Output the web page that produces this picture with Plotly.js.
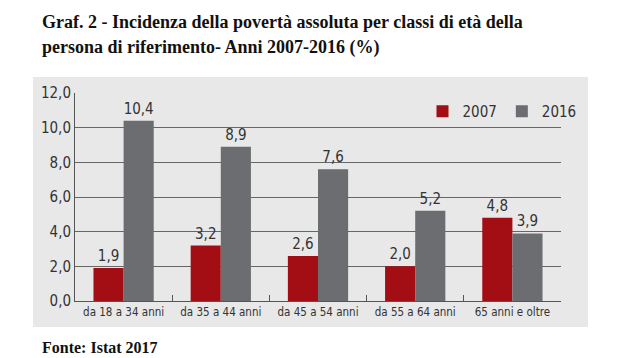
<!DOCTYPE html>
<html><head><meta charset="utf-8">
<script src="https://cdn.plot.ly/plotly-3.0.1.min.js"></script>
<style>body{margin:0;background:#fff}#c{width:621px;height:358px}</style>
</head><body><div id="c"></div>
<script>
const categories = ["da 18 a 34 anni","da 35 a 44 anni","da 45 a 54 anni","da 55 a 64 anni","65 anni e oltre"];
const series2007 = [1.9, 3.2, 2.6, 2.0, 4.8];
const series2016 = [10.4, 8.9, 7.6, 5.2, 3.9];
const yTicks = [0,2,4,6,8,10,12];

const F = "'DejaVu Sans Condensed','Liberation Sans Narrow',sans-serif";
const traces = [
  {type:'bar', name:'2007', x:categories, y:series2007, marker:{color:'#A30E14'},
   text:series2007, texttemplate:'%{y:.1f}', textposition:'outside', cliponaxis:false,
   textfont:{family:F,size:15,color:'#333'}},
  {type:'bar', name:'2016', x:categories, y:series2016, marker:{color:'#6C6D70'},
   text:series2016, texttemplate:'%{y:.1f}', textposition:'outside', cliponaxis:false,
   textfont:{family:F,size:15,color:'#333'}}
];
const layout = {
  width:621, height:358,
  margin:{l:75, r:60, t:93, b:57},
  paper_bgcolor:'#fff', plot_bgcolor:'#E8E8E8',
  separators:',.',
  barmode:'group', bargap:0.38, bargroupgap:0,
  font:{family:F, size:13, color:'#333'},
  showlegend:true,
  legend:{orientation:'h', x:0.715, y:0.99, xanchor:'left', yanchor:'top',
    bgcolor:'rgba(0,0,0,0)', font:{family:F,size:15,color:'#333'}, itemwidth:30, traceorder:'normal'},
  xaxis:{type:'category', showgrid:false, showline:true, linecolor:'#555', linewidth:1,
    ticks:'inside', tickson:'boundaries', ticklen:6, tickcolor:'#555', tickangle:0,
    tickfont:{family:F,size:11.5,color:'#333'}, fixedrange:true},
  yaxis:{range:[0,12], tickvals:yTicks, tickformat:'.1f', showgrid:true, gridcolor:'#666', gridwidth:1,
    showline:true, linecolor:'#555', zeroline:false, ticks:'', ticklen:0,
    tickfont:{family:F,size:15,color:'#333'}},
  shapes:[{type:'rect', xref:'paper', yref:'paper', x0:-0.0864, x1:1.0556, y0:-0.125, y1:1.077,
    fillcolor:'#E8E8E8', line:{width:0}, layer:'below'}],
  annotations:[
    {xref:'paper', yref:'paper', x:-0.072, y:1.341, xanchor:'left', yanchor:'middle', showarrow:false,
     text:'<b>Graf. 2 - Incidenza della povertà assoluta per classi di età della</b>',
     font:{family:"'Liberation Serif',serif", size:18, color:'#111'}},
    {xref:'paper', yref:'paper', x:-0.072, y:1.221, xanchor:'left', yanchor:'middle', showarrow:false,
     text:'<b>persona di riferimento- Anni 2007-2016 (%)</b>',
     font:{family:"'Liberation Serif',serif", size:18, color:'#111'}},
    {xref:'paper', yref:'paper', x:-0.072, y:-0.225, xanchor:'left', yanchor:'middle', showarrow:false,
     text:'<b>Fonte: Istat 2017</b>',
     font:{family:"'Liberation Serif',serif", size:16, color:'#111'}}
  ]
};
Plotly.newPlot('c', traces, layout, {displayModeBar:false, staticPlot:true});
</script></body></html>
